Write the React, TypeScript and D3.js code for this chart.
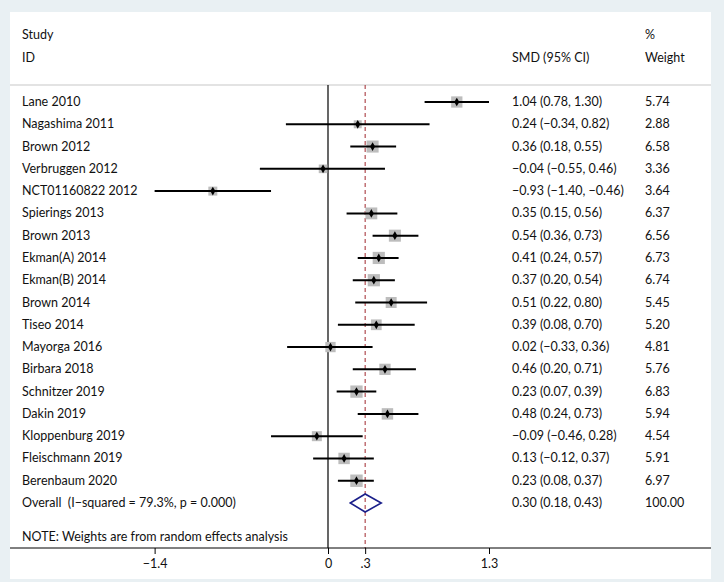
import React, { useEffect, useRef } from 'react'
import * as d3 from 'd3'

const studies = ['Lane 2010', 'Nagashima 2011', 'Brown 2012', 'Verbruggen 2012', 'NCT01160822 2012', 'Spierings 2013', 'Brown 2013', 'Ekman(A) 2014', 'Ekman(B) 2014', 'Brown 2014', 'Tiseo 2014', 'Mayorga 2016', 'Birbara 2018', 'Schnitzer 2019', 'Dakin 2019', 'Kloppenburg 2019', 'Fleischmann 2019', 'Berenbaum 2020']
const smd = [1.04, 0.24, 0.36, -0.04, -0.93, 0.35, 0.54, 0.41, 0.37, 0.51, 0.39, 0.02, 0.46, 0.23, 0.48, -0.09, 0.13, 0.23]
const lower = [0.78, -0.34, 0.18, -0.55, -1.4, 0.15, 0.36, 0.24, 0.2, 0.22, 0.08, -0.33, 0.2, 0.07, 0.24, -0.46, -0.12, 0.08]
const upper = [1.3, 0.82, 0.55, 0.46, -0.46, 0.56, 0.73, 0.57, 0.54, 0.8, 0.7, 0.36, 0.71, 0.39, 0.73, 0.28, 0.37, 0.37]
const weights = [5.74, 2.88, 6.58, 3.36, 3.64, 6.37, 6.56, 6.73, 6.74, 5.45, 5.2, 4.81, 5.76, 6.83, 5.94, 4.54, 5.91, 6.97]
const overall = { est: 0.3, lo: 0.18, hi: 0.43, label: 'Overall\u00a0\u00a0(I\u2212squared = 79.3%, p = 0.000)' }
const xTicks = [-1.4, 0, 0.3, 1.3]

const fmt = (v: number) => d3.format('.2f')(v).replace('-', '\u2212')

const App = () => {
  const ref = useRef<SVGSVGElement>(null)

  useEffect(() => {
    const svg = d3.select(ref.current)
    svg.selectAll('*').remove()
    const W = 724
    const H = 582
    const font = "Lato, 'Open Sans', sans-serif"

    svg.append('rect').attr('width', W).attr('height', H).attr('fill', '#e9f0f3')
    svg.append('rect').attr('x', 10).attr('y', 12).attr('width', 701).attr('height', 567).attr('fill', '#fff')

    const x = d3.scaleLinear().domain([0, 1.3]).range([328, 489])
    const rows = [...studies, 'overall']
    const y = d3.scalePoint<string>().domain(rows).range([102, 503])
    const top = 85
    const axisY = 548

    svg.append('line').attr('x1', 10).attr('x2', 711).attr('y1', top).attr('y2', top).attr('stroke', '#c8c8c8').attr('stroke-width', 1.2)

    const g = svg.append('g').style('font-family', font).style('font-size', '12.5px').attr('fill', '#111')
    g.append('text').attr('x', 22).attr('y', 39).text('Study')
    g.append('text').attr('x', 22).attr('y', 62).text('ID')
    g.append('text').attr('x', 512).attr('y', 62).text('SMD (95% CI)')
    g.append('text').attr('x', 645).attr('y', 39).text('%')
    g.append('text').attr('x', 645).attr('y', 62).text('Weight')

    // null line and overall line
    svg.append('line').attr('x1', x(0)).attr('x2', x(0)).attr('y1', top).attr('y2', axisY).attr('stroke', '#000').attr('stroke-width', 1.2)
    svg.append('line').attr('x1', x(overall.est)).attr('x2', x(overall.est)).attr('y1', top).attr('y2', axisY)
      .attr('stroke', '#a0282d').attr('stroke-width', 1).attr('stroke-dasharray', '4,3')

    studies.forEach((s, i) => {
      const cy = y(s)!
      const side = 4.7 * Math.sqrt(weights[i])
      svg.append('rect').attr('x', x(smd[i]) - side / 2).attr('y', cy - side / 2).attr('width', side).attr('height', side).attr('fill', '#bdbdbd')
      svg.append('line').attr('x1', x(lower[i])).attr('x2', x(upper[i])).attr('y1', cy).attr('y2', cy).attr('stroke', '#000').attr('stroke-width', 2)
      svg.append('path').attr('d', d3.symbol().type(d3.symbolDiamond).size(22)()).attr('transform', `translate(${x(smd[i])},${cy})`).attr('fill', '#000')
      g.append('text').attr('x', 22).attr('y', cy + 4).text(s)
      g.append('text').attr('x', 512).attr('y', cy + 4).text(`${fmt(smd[i])} (${fmt(lower[i])}, ${fmt(upper[i])})`)
      g.append('text').attr('x', 645).attr('y', cy + 4).text(d3.format('.2f')(weights[i]))
    })

    const oy = y('overall')!
    svg.append('path')
      .attr('d', `M${x(overall.lo)},${oy} L${x(overall.est)},${oy - 9} L${x(overall.hi)},${oy} L${x(overall.est)},${oy + 9} Z`)
      .attr('fill', 'none').attr('stroke', '#1a1f8a').attr('stroke-width', 1.6)
    g.append('text').attr('x', 22).attr('y', oy + 4).text(overall.label)
    g.append('text').attr('x', 512).attr('y', oy + 4).text(`${fmt(overall.est)} (${fmt(overall.lo)}, ${fmt(overall.hi)})`)
    g.append('text').attr('x', 645).attr('y', oy + 4).text('100.00')

    g.append('text').attr('x', 22).attr('y', 541).text('NOTE: Weights are from random effects analysis')

    svg.append('line').attr('x1', 10).attr('x2', 711).attr('y1', axisY).attr('y2', axisY).attr('stroke', '#000').attr('stroke-width', 1)
    const axis = d3.axisBottom(x).tickValues(xTicks).tickSize(6).tickPadding(5)
      .tickFormat((d) => { const v = d as number; return v === 0 ? '0' : v === 0.3 ? '.3' : String(v).replace('-', '\u2212') })
    const ag = svg.append('g').attr('transform', `translate(0,${axisY})`).call(axis)
    ag.select('.domain').remove()
    ag.selectAll('text').style('font-family', font).style('font-size', '12.5px').attr('fill', '#111')
  }, [])

  return <svg ref={ref} width={724} height={582} style={{ display: 'block', position: 'absolute', left: 0, top: 0 }} />
}

export default App
